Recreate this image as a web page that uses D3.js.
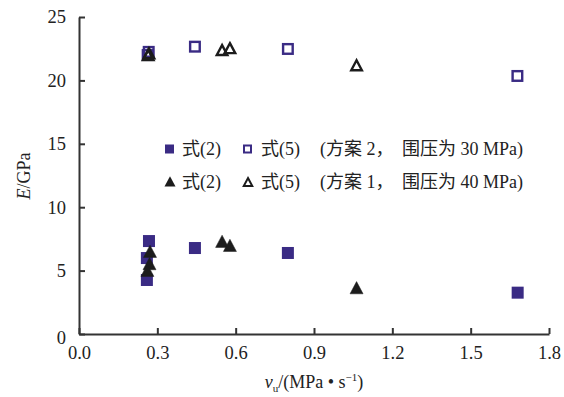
<!DOCTYPE html>
<html>
<head>
<meta charset="utf-8">
<script src="https://cdn.jsdelivr.net/npm/d3@7"></script>
<style>
  html, body { margin: 0; padding: 0; background: #fff; }
  text { font-family: "Liberation Serif", "Noto Sans CJK SC", serif; fill: #222; }
</style>
</head>
<body>
<svg id="chart" width="564" height="397"></svg>
<script>
// Loading rate v_u (MPa/s) and elastic modulus E (GPa)
// Scheme 2 (confining pressure 30 MPa)
const scheme2Eq2 = [
  { v: 0.268, E: 7.33 }, { v: 0.26, E: 5.99 }, { v: 0.26, E: 4.26 },
  { v: 0.444, E: 6.78 }, { v: 0.80, E: 6.39 }, { v: 1.68, E: 3.26 }
];
const scheme2Eq5 = [
  { v: 0.267, E: 22.25 }, { v: 0.263, E: 22.0 },
  { v: 0.444, E: 22.66 }, { v: 0.80, E: 22.48 }, { v: 1.679, E: 20.35 }
];
// Scheme 1 (confining pressure 40 MPa)
const scheme1Eq2 = [
  { v: 0.272, E: 6.47 }, { v: 0.27, E: 5.5 }, { v: 0.262, E: 4.97 },
  { v: 0.548, E: 7.26 }, { v: 0.578, E: 6.94 }, { v: 1.063, E: 3.6 }
];
const scheme1Eq5 = [
  { v: 0.268, E: 22.1 }, { v: 0.265, E: 21.95 },
  { v: 0.548, E: 22.35 }, { v: 0.578, E: 22.5 }, { v: 1.063, E: 21.15 }
];
const xTicks = [0, 0.3, 0.6, 0.9, 1.2, 1.5, 1.8];
const yTicks = [0, 5, 10, 15, 20, 25];

const navy = "#3a2b84";
const black = "#1c1c1c";
const axisColor = "#333";

const svg = d3.select("#chart");
const plotLeft = 79, plotRight = 549, plotTop = 17, plotBottom = 334;

const x = d3.scaleLinear().domain([0, 1.8]).range([plotLeft, plotRight]);
const y = d3.scaleLinear().domain([0, 25]).range([plotBottom, plotTop]);

// Axes with inward ticks
const xAxis = d3.axisBottom(x).tickValues(xTicks).tickSize(-6).tickSizeOuter(0)
  .tickFormat(d3.format(".1f")).tickPadding(12);
const yAxis = d3.axisLeft(y).tickValues(yTicks).tickSize(-6).tickSizeOuter(0)
  .tickFormat(d3.format("d")).tickPadding(13);

const gx = svg.append("g").attr("transform", `translate(0,${plotBottom})`).call(xAxis);
const gy = svg.append("g").attr("transform", `translate(${plotLeft},0)`).call(yAxis);
[gx, gy].forEach(g => {
  g.select(".domain").attr("stroke", axisColor).attr("stroke-width", 2);
  g.selectAll(".tick line").attr("stroke", axisColor).attr("stroke-width", 2);
  g.selectAll(".tick text").attr("font-size", 18.5).attr("fill", "#222")
    .style("font-family", "'Liberation Serif', serif");
});
gy.selectAll(".tick text").attr("dy", "0.32em");
gy.selectAll(".tick").filter(d => d === 0).select("text").attr("dy", "0.5em");

// Marker shapes
const sq = 12, tri = 13;
const triPath = s => `M0,${-s * 0.52} L${s / 2},${s * 0.42} L${-s / 2},${s * 0.42} Z`;

function squares(data, filled, size) {
  const g = svg.append("g");
  g.selectAll("rect").data(data).join("rect")
    .attr("x", d => x(d.v) - size / 2 + (filled ? 0 : 1.2))
    .attr("y", d => y(d.E) - size / 2 + (filled ? 0 : 1.2))
    .attr("width", filled ? size : size - 2.4)
    .attr("height", filled ? size : size - 2.4)
    .attr("fill", filled ? navy : "none")
    .attr("stroke", filled ? "none" : navy)
    .attr("stroke-width", filled ? 0 : 2.4);
}
function triangles(data, filled, size) {
  const g = svg.append("g");
  g.selectAll("path").data(data).join("path")
    .attr("transform", d => `translate(${x(d.v)},${y(d.E)})`)
    .attr("d", triPath(filled ? size : size - 2.4))
    .attr("fill", filled ? black : "none")
    .attr("stroke", black)
    .attr("stroke-width", filled ? 0.5 : 2.4)
    .attr("stroke-linejoin", "miter");
}

squares(scheme2Eq5, false, sq);
triangles(scheme1Eq5, false, tri);
squares(scheme2Eq2, true, sq);
triangles(scheme1Eq2, true, tri);

// Legend
const legend = svg.append("g");
const rows = [
  { y: 149, filledKind: "square", scheme: "(方案 2，", pressure: "围压为 30 MPa)" },
  { y: 182, filledKind: "triangle", scheme: "(方案 1，", pressure: "围压为 40 MPa)" }
];
rows.forEach(r => {
  if (r.filledKind === "square") {
    legend.append("rect").attr("x", 165).attr("y", r.y - 4.5).attr("width", 9).attr("height", 9).attr("fill", navy);
    legend.append("rect").attr("x", 244).attr("y", r.y - 3.5).attr("width", 7).attr("height", 7)
      .attr("fill", "none").attr("stroke", navy).attr("stroke-width", 2);
  } else {
    legend.append("path").attr("transform", `translate(170,${r.y})`).attr("d", triPath(11)).attr("fill", black);
    legend.append("path").attr("transform", `translate(248,${r.y + 0.5})`).attr("d", triPath(8.5))
      .attr("fill", "none").attr("stroke", black).attr("stroke-width", 2);
  }
  legend.append("text").attr("x", 182).attr("y", r.y + 6).attr("font-size", 18).text("式(2)");
  legend.append("text").attr("x", 261).attr("y", r.y + 6).attr("font-size", 18).text("式(5)");
  legend.append("text").attr("x", 320).attr("y", r.y + 6).attr("font-size", 18).text(r.scheme);
  legend.append("text").attr("x", 402).attr("y", r.y + 6).attr("font-size", 18).text(r.pressure);
});

// Axis titles
const xt = svg.append("text").attr("x", 314).attr("y", 388).attr("text-anchor", "middle").attr("font-size", 18);
xt.append("tspan").attr("font-style", "italic").text("v");
xt.append("tspan").attr("font-size", 11).attr("dy", 4).text("u");
xt.append("tspan").attr("dy", -4).text("/(MPa • s");
xt.append("tspan").attr("font-size", 11).attr("dy", -7).text("−1");
xt.append("tspan").attr("dy", 7).text(")");

const yt = svg.append("text").attr("transform", "translate(30,176) rotate(-90)")
  .attr("text-anchor", "middle").attr("font-size", 18);
yt.append("tspan").attr("font-style", "italic").text("E");
yt.append("tspan").text("/GPa");
</script>
</body>
</html>
